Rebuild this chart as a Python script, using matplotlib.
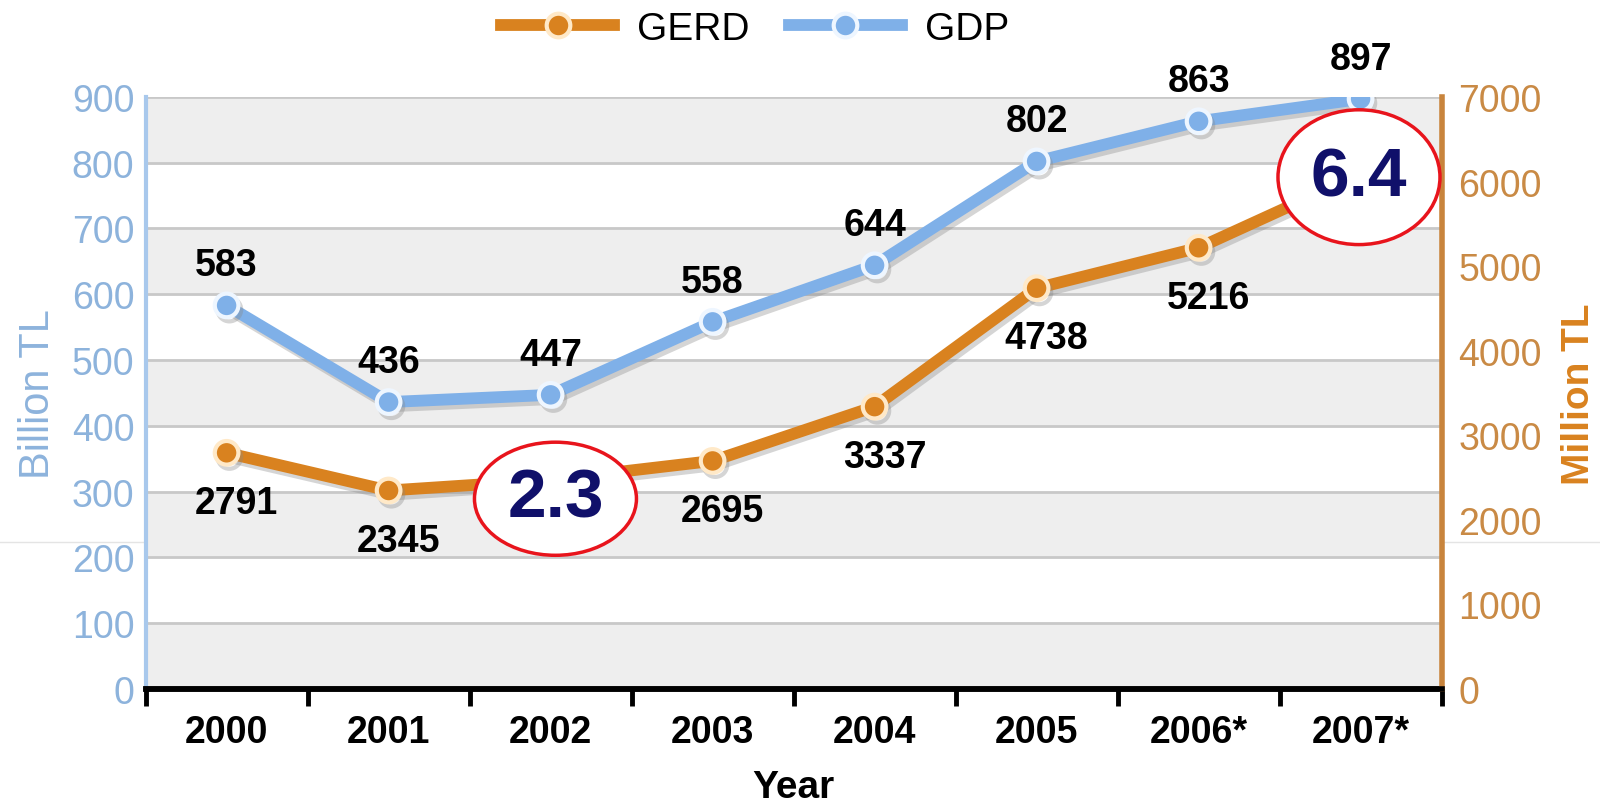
import matplotlib
matplotlib.use("Agg")
import matplotlib.pyplot as plt
from matplotlib.patches import Ellipse
from matplotlib.lines import Line2D
import matplotlib.patheffects as pe

years = ["2000", "2001", "2002", "2003", "2004", "2005", "2006*", "2007*"]
gdp = [583, 436, 447, 558, 644, 802, 863, 897]
gerd = [2791, 2345, 2471, 2695, 3337, 4738, 5216, 6091]
gdp_labels = ["583", "436", "447", "558", "644", "802", "863", "897"]
gerd_labels = ["2791", "2345", "", "2695", "3337", "4738", "5216", ""]
left_ticks = [0, 100, 200, 300, 400, 500, 600, 700, 800, 900]
right_ticks = [0, 1000, 2000, 3000, 4000, 5000, 6000, 7000]
callouts = [("2.3", 2.03, 289, 1.0, 172), ("6.4", 6.99, 778, 1.0, 205)]

BLUE = "#7fb0e8"
BLUE_TXT = "#8db3dc"
ORANGE = "#d9821f"
ORANGE_TXT = "#c98a45"
FONT = "Liberation Sans"

plt.rcParams['font.family'] = [FONT, 'DejaVu Sans']

fig = plt.figure(figsize=(16, 8.03), dpi=100)
ax = fig.add_axes([0.091, 0.141, 0.81, 0.737])
ax2 = ax.twinx()

x = list(range(len(years)))
ax.set_xlim(-0.5, len(years) - 0.5)
ax.set_ylim(0, 900)
ax2.set_ylim(0, 7000)

# faint line across the figure
fig.add_artist(Line2D([0, 1], [0.324, 0.324], transform=fig.transFigure,
                      color="#e4e4e4", lw=1, zorder=-1))

# alternating background bands
for i in range(len(left_ticks) - 1):
    if (len(left_ticks) - 2 - i) % 2 == 0:
        ax.axhspan(left_ticks[i], left_ticks[i + 1], color="#eeeeee", zorder=0, lw=0)
for t in left_ticks[1:]:
    ax.axhline(t, color="#c8c8c8", lw=2, zorder=0.5)

shadow = [pe.SimpleLineShadow(offset=(2, -3), shadow_color="#888888", alpha=0.35), pe.Normal()]

ax2.plot(x, gerd, color=ORANGE, lw=8.5, solid_capstyle="butt", marker="o", ms=17,
         mfc=ORANGE, mec="#ffe9c8", mew=3, zorder=3, path_effects=shadow)
ax.plot(x, gdp, color=BLUE, lw=8.5, solid_capstyle="butt", marker="o", ms=17,
        mfc=BLUE, mec="#eef6ff", mew=3, zorder=3, path_effects=shadow)
ax.set_zorder(2)
ax2.set_zorder(3)
ax2.patch.set_visible(False)

for xi, v, lab in zip(x, gdp, gdp_labels):
    if lab:
        ax.annotate(lab, (xi, v), xytext=(0, 40), textcoords="offset pixels",
                    ha="center", va="center", fontsize=27, fontweight="bold",
                    color="black", zorder=5)
for xi, v, lab in zip(x, gerd, gerd_labels):
    if lab:
        ax2.annotate(lab, (xi, v), xytext=(10, -50), textcoords="offset pixels",
                     ha="center", va="center", fontsize=27, fontweight="bold",
                     color="black", zorder=5)

for txt, cx, cy, w, h in callouts:
    e = Ellipse((cx, cy), w, h, facecolor="white", edgecolor="#e8141c", lw=2.5,
                zorder=10, clip_on=False)
    ax2.add_patch(e)
    e.set_transform(ax.transData)
    ax2.text(cx, cy, txt, transform=ax.transData, ha="center", va="center",
             fontsize=50, fontweight="bold", color="#10106a", zorder=11)

# x axis
ax.set_xticks([i + 0.5 for i in range(-1, len(years))])
ax.set_xticklabels([])
ax.set_xticks(x, minor=True)
ax.set_xticklabels(years, minor=True, fontsize=27, fontweight="bold")
ax.tick_params(axis="x", which="major", length=12, width=3.5, color="black", direction="out")
ax.tick_params(axis="x", which="minor", length=0, pad=18)
ax.set_xlabel("Year", fontsize=28, fontweight="bold", labelpad=14)

# left axis
ax.set_yticks(left_ticks)
ax.set_yticklabels([str(t) for t in left_ticks], fontsize=27, color=BLUE_TXT)
ax.tick_params(axis="y", length=0, pad=8)
ax.set_ylabel("Billion TL", fontsize=30, color=BLUE_TXT, labelpad=10)

# right axis
ax2.set_yticks(right_ticks)
ax2.set_yticklabels([str(t) for t in right_ticks], fontsize=27, color=ORANGE_TXT)
ax2.tick_params(axis="y", length=0, pad=12)
ax2.set_ylabel("Million TL", fontsize=28, color=ORANGE, fontweight="bold", labelpad=14)

for a in (ax, ax2):
    a.spines["top"].set_visible(False)
    a.spines["bottom"].set_color("black")
    a.spines["bottom"].set_linewidth(4)
    a.spines["left"].set_color("#a8c8ec")
    a.spines["left"].set_linewidth(3)
    a.spines["right"].set_color("#c8843c")
    a.spines["right"].set_linewidth(4)
ax.spines["right"].set_visible(False)
ax2.spines["left"].set_visible(False)

# legend
handles = [
    Line2D([], [], color=ORANGE, lw=8.5, marker="o", ms=17, mfc=ORANGE, mec="#ffe9c8", mew=3),
    Line2D([], [], color=BLUE, lw=8.5, marker="o", ms=17, mfc=BLUE, mec="#eef6ff", mew=3),
]
fig.legend(handles, ["GERD", "GDP"], loc="center", bbox_to_anchor=(0.472, 0.963), ncol=2,
           frameon=False, fontsize=28, handlelength=2.9, columnspacing=1.0, handletextpad=0.6)

fig.savefig("out.png", dpi=100)
